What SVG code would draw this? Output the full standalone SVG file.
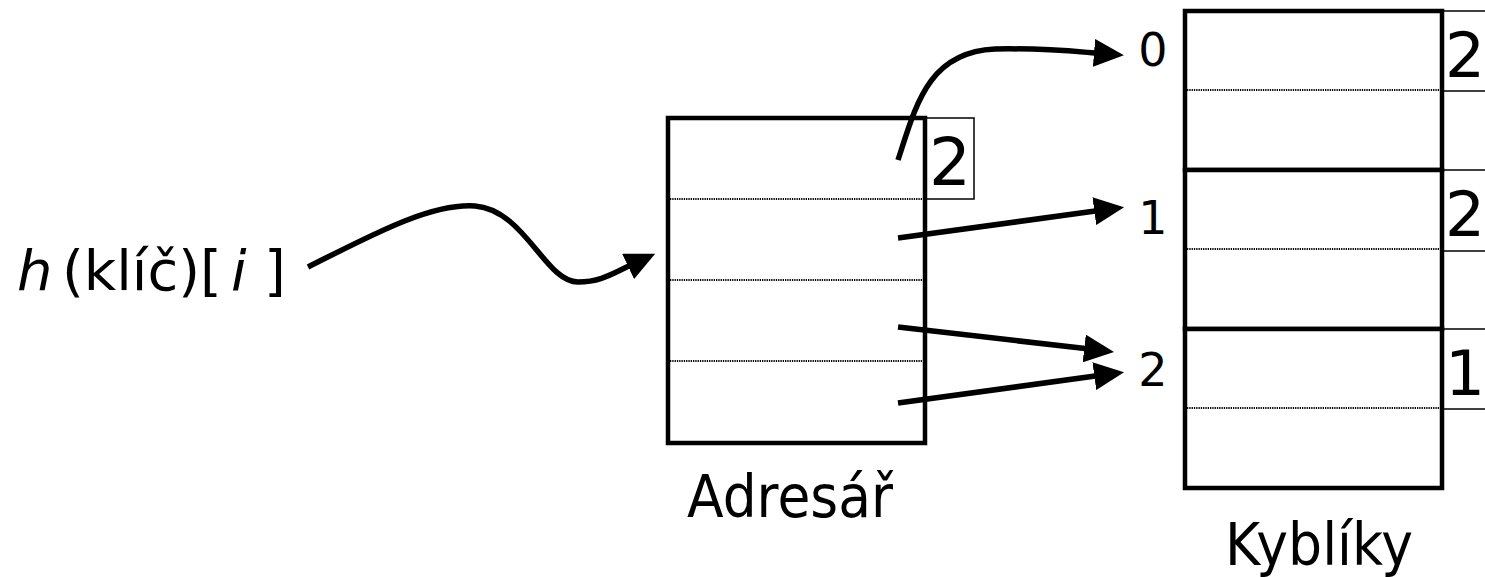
<svg xmlns="http://www.w3.org/2000/svg" width="1485" height="577" viewBox="0 0 1485 577">
<style>
.box{fill:#fff;stroke:#000;stroke-width:4.5}
.side{fill:none;stroke:#000;stroke-width:1.5}
.dot{stroke:#000;stroke-width:2;stroke-dasharray:1.3 1;fill:none}
.conn{fill:none;stroke:#000;stroke-width:5.5}
.t{font-family:"DejaVu Sans",Verdana,sans-serif;fill:#000}
</style>
<defs>
<marker id="ah" markerUnits="userSpaceOnUse" markerWidth="30" markerHeight="28" viewBox="0 0 30 28" refX="1" refY="14" orient="auto">
<path d="M0,0 L30,14 L0,28 z" fill="#000"/>
</marker>
</defs>
<rect width="1485" height="577" fill="#fff"/>

<g id="label-h">
<text class="t" y="290" font-size="56"><tspan x="17" font-style="italic">h</tspan><tspan x="62">(klíč)[</tspan><tspan x="231" font-style="italic">i</tspan><tspan x="264">]</tspan></text>
</g>

<g id="adresar">
<rect class="box" x="668" y="118" width="257" height="325"/>
<line class="dot" x1="670" y1="199" x2="923" y2="199"/>
<line class="dot" x1="670" y1="280" x2="923" y2="280"/>
<line class="dot" x1="670" y1="361" x2="923" y2="361"/>
<rect class="side" x="925" y="118" width="49" height="81"/>
<text class="t" x="929" y="185" font-size="66">2</text>
<text class="t" x="687" y="517" font-size="58" textLength="206" lengthAdjust="spacingAndGlyphs">Adresář</text>
</g>

<g id="bucket0">
<rect class="box" x="1185" y="11" width="257" height="159"/>
<line class="dot" x1="1187" y1="90" x2="1440" y2="90"/>
<rect class="side" x="1442" y="11" width="60" height="80"/>
<text class="t" x="1445" y="77" font-size="63">2</text>
<text class="t" x="1153" y="66" font-size="46" text-anchor="middle">0</text>
</g>
<g id="bucket1">
<rect class="box" x="1185" y="170" width="257" height="159"/>
<line class="dot" x1="1187" y1="249" x2="1440" y2="249"/>
<rect class="side" x="1442" y="170" width="60" height="81"/>
<text class="t" x="1445" y="236" font-size="63">2</text>
<text class="t" x="1153" y="234" font-size="46" text-anchor="middle">1</text>
</g>
<g id="bucket2">
<rect class="box" x="1185" y="329" width="257" height="159"/>
<line class="dot" x1="1187" y1="408" x2="1440" y2="408"/>
<rect class="side" x="1442" y="329" width="60" height="80"/>
<text class="t" x="1445" y="395" font-size="63">1</text>
<text class="t" x="1153" y="386" font-size="46" text-anchor="middle">2</text>
</g>
<g id="kybliky-label">
<text class="t" x="1225" y="565" font-size="58" textLength="188" lengthAdjust="spacingAndGlyphs">Kyblíky</text>
</g>

<g id="connectors">
<path class="conn" marker-end="url(#ah)" d="M308,267 C370,236 430,203 475,206 C525,210 545,282 578,282 C600,282 612,274 629,266"/>
<path class="conn" marker-end="url(#ah)" d="M898,160 C916,105 928,52 995,49 C1040,48 1070,51 1095,53"/>
<path class="conn" marker-end="url(#ah)" d="M898,238 L1095.3,211.05"/>
<path class="conn" marker-end="url(#ah)" d="M898,327 L1085.2,348.6"/>
<path class="conn" marker-end="url(#ah)" d="M898,403 L1095.3,376.05"/>
</g>
</svg>
